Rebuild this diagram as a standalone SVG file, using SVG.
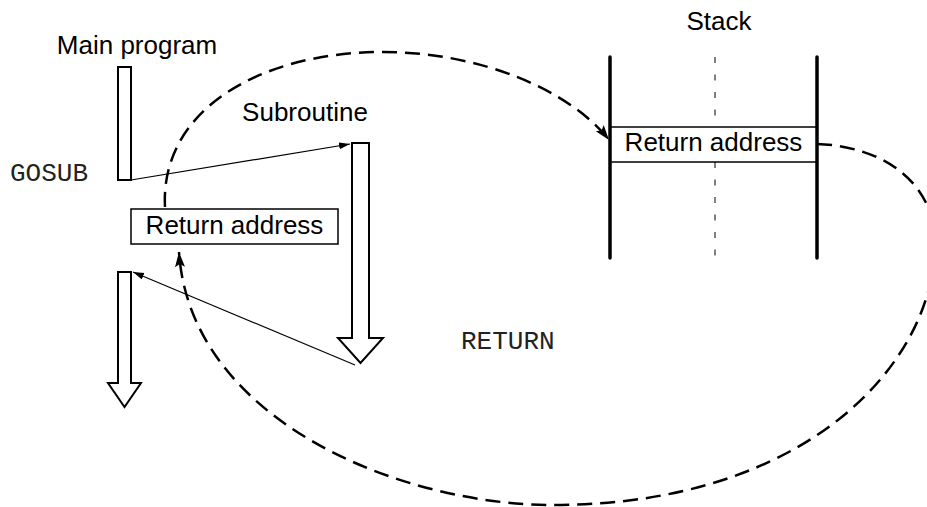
<svg xmlns="http://www.w3.org/2000/svg" width="927" height="507" viewBox="0 0 927 507">
  <style>
    .label { font-family: "Liberation Sans", Arial, Helvetica, sans-serif; font-size: 26px; fill: #000; }
    .code { font-family: "Liberation Mono", "Courier New", monospace; font-size: 26px; fill: #222; }
    .block { fill: #fff; stroke: #000; stroke-width: 2; stroke-linejoin: miter; }
    .box { fill: #fff; stroke: #000; stroke-width: 1.5; }
    .thin { fill: none; stroke: #000; stroke-width: 1.2; }
    .dash { fill: none; stroke: #000; stroke-width: 2.5; stroke-dasharray: 15 8; }
    .wall { stroke: #000; stroke-width: 3.5; stroke-linecap: round; }
    .center { stroke: #000; stroke-width: 1; stroke-dasharray: 6 11.5; }
  </style>
  <defs>
    <marker id="arrThin" markerUnits="userSpaceOnUse" markerWidth="12" markerHeight="8" refX="11" refY="3.5" orient="auto">
      <path d="M0,0 L11,3.5 L0,7 Z" fill="#000"/>
    </marker>
    <marker id="arrDash" markerUnits="userSpaceOnUse" markerWidth="16" markerHeight="12" refX="15" refY="5" orient="auto">
      <path d="M0,0 L15,5 L0,10 L3,5 Z" fill="#000"/>
    </marker>
  </defs>
  <rect width="927" height="507" fill="#fff"/>

  <g id="main-program">
    <text class="label" x="137" y="54" text-anchor="middle">Main program</text>
    <rect class="block" x="118" y="67" width="13" height="113"/>
    <polygon class="block" points="118,272 131,272 131,383 141,383 124.5,407 108,383 118,383"/>
  </g>

  <g id="gosub-label">
    <text class="code" x="10" y="181">GOSUB</text>
  </g>

  <g id="return-label">
    <text class="code" x="461" y="349">RETURN</text>
  </g>

  <g id="subroutine">
    <text class="label" x="305" y="121" text-anchor="middle">Subroutine</text>
    <polygon class="block" points="352,143 369,143 369,338 383,338 360.5,363 338,338 352,338"/>
  </g>

  <g id="return-address-saved">
    <rect class="box" x="131" y="209" width="207" height="35"/>
    <text class="label" x="234.5" y="234" text-anchor="middle">Return address</text>
  </g>

  <g id="stack">
    <text class="label" x="719" y="30" text-anchor="middle">Stack</text>
    <line class="center" x1="715" y1="57" x2="715" y2="258"/>
    <rect class="box" x="610" y="127" width="207" height="35"/>
    <text class="label" x="713.5" y="151" text-anchor="middle">Return address</text>
    <line class="wall" x1="610" y1="57" x2="610" y2="258"/>
    <line class="wall" x1="817" y1="57" x2="817" y2="258"/>
  </g>

  <g id="connectors">
    <line class="thin" x1="131" y1="180" x2="350" y2="144" marker-end="url(#arrThin)"/>
    <line class="thin" x1="355" y1="365" x2="133" y2="272" marker-end="url(#arrThin)"/>
    <path class="dash" d="M165,207 C160,110 260,52 383,52 C480,52 570,90 609,140" marker-end="url(#arrDash)"/>
    <path class="dash" d="M817,144 C880,146 933,180 935,240 C937,360 810,505 553,505 C400,505 190,420 179,252" marker-end="url(#arrDash)"/>
  </g>
</svg>
